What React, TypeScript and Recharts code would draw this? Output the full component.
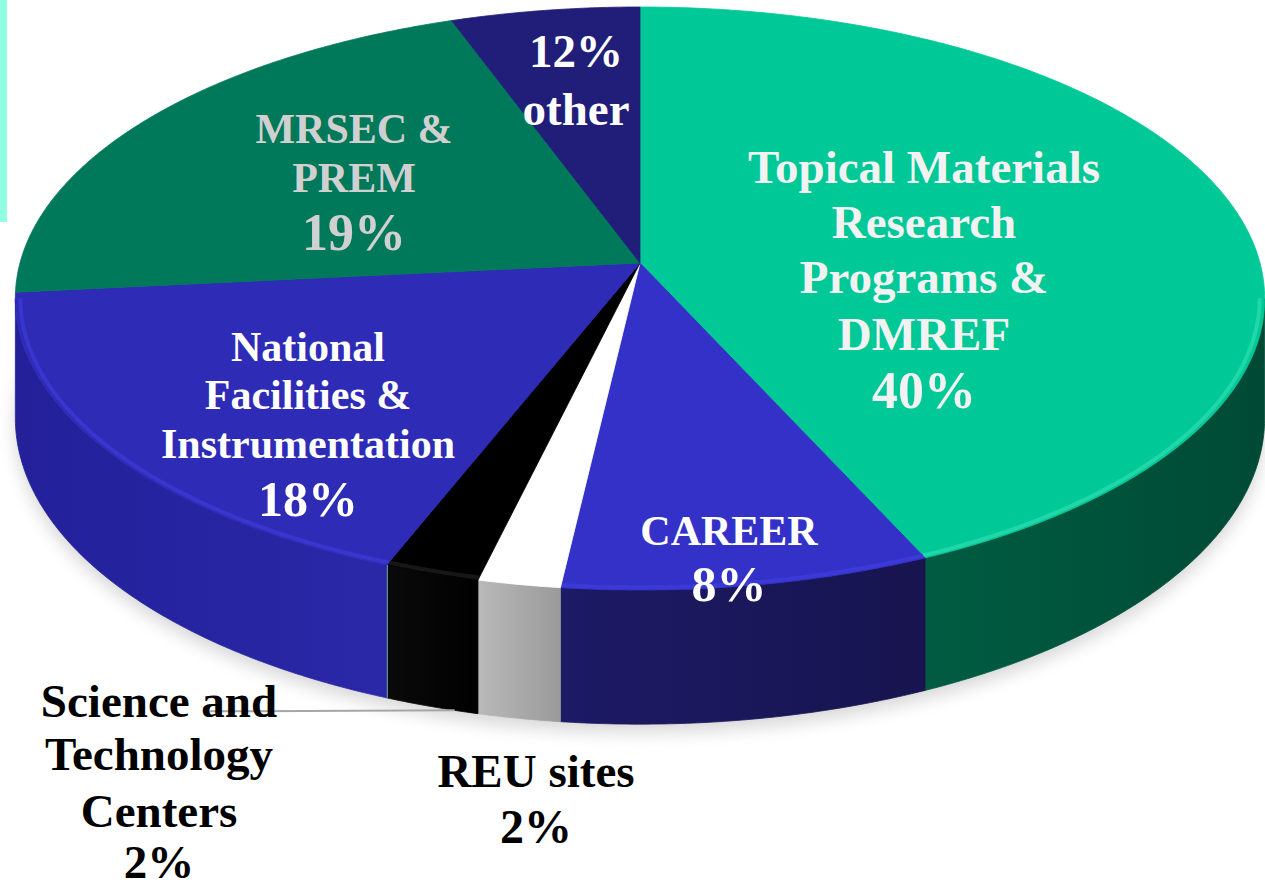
import React from 'react';
import { PieChart, Pie } from 'recharts';

// ---- data ----
const categories = [
  'Topical Materials Research Programs & DMREF',
  'CAREER',
  'REU sites',
  'Science and Technology Centers',
  'National Facilities & Instrumentation',
  'MRSEC & PREM',
  'other',
];
// slice shares as drawn in the picture
const shares = [43.3, 8.5, 1.9, 2.2, 17.5, 21.1, 5.5];
// printed percentages
const percentLabels = ['40%', '8%', '2%', '2%', '18%', '19%', '12%'];
const labelLines = [
  ['Topical Materials', 'Research', 'Programs &', 'DMREF'],
  ['CAREER'],
  ['REU sites'],
  ['Science and', 'Technology', 'Centers'],
  ['National', 'Facilities &', 'Instrumentation'],
  ['MRSEC &', 'PREM'],
  ['other'],
];

// ---- styles ----
const topColors = ['#00C896', '#3331C8', '#FFFFFF', '#000000', '#2E2BB6', '#00785A', '#201E78'];
const sideLeft = ['#005C42', '#1D1A66', '#B9B9B9', '#0A0A0A', '#23209A', '#00553F', '#16145A'];
const sideRight = ['#004A34', '#17144F', '#9A9A9A', '#000000', '#2B28A8', '#00553F', '#16145A'];
const rimColors = ['#22D8AA', '#3D3BDA', '#FFFFFF', '#1A1A1A', '#3A37D2', '#00785A', '#201E78'];

type Layout = { dx: number; ys: number[]; pctY: number; size: number; pctSize: number; color: string };
const labelLayout: Layout[] = [
  { dx: 284, ys: [-80, -25, 30, 87], pctY: 145, size: 47, pctSize: 52, color: '#F2F2F2' },
  { dx: 89, ys: [282], pctY: 338, size: 42, pctSize: 50, color: '#FFFFFF' },
  { dx: -104, ys: [524], pctY: 580, size: 47, pctSize: 48, color: '#000000' },
  { dx: -481, ys: [454, 507, 564], pctY: 615, size: 47, pctSize: 47, color: '#000000' },
  { dx: -332, ys: [98, 146, 195], pctY: 253, size: 42, pctSize: 50, color: '#FFFFFF' },
  { dx: -286, ys: [-120, -71], pctY: -13, size: 42, pctSize: 52, color: '#D0D0D0' },
  { dx: -64, ys: [-138], pctY: -196, size: 47, pctSize: 47, color: '#FFFFFF' },
];

const rows = categories.map((name, i) => ({ name, share: shares[i] }));

// ---- 3D projection of the pie disc ----
const TILT = 0.4632; // vertical squash of the disc
const PERSP = 0.1218; // perspective strength
const DEPTH = 0.19; // thickness relative to radius

function project(cx: number, cy: number, R: number, theta: number, depth = 0): [number, number] {
  const t = (theta * Math.PI) / 180;
  const u = Math.sin(t);
  const v = -Math.cos(t);
  const s = 1 / (1 - PERSP * v);
  return [cx + R * u * s, cy + R * TILT * v * s + depth * R * s];
}

function arcPts(cx: number, cy: number, R: number, a: number, b: number, depth = 0) {
  const n = Math.max(2, Math.ceil(Math.abs(b - a) / 0.5));
  const pts: [number, number][] = [];
  for (let i = 0; i <= n; i++) pts.push(project(cx, cy, R, a + ((b - a) * i) / n, depth));
  return pts;
}

const toPath = (pts: [number, number][]) =>
  pts.map((p, i) => `${i ? 'L' : 'M'}${p[0].toFixed(2)},${p[1].toFixed(2)}`).join(' ');

const FONT = "'Liberation Serif', 'Times New Roman', serif";

const renderSlice = (p: any) => {
  const { cx, cy, outerRadius: R, startAngle, endAngle, index } = p;
  const t1 = 90 - startAngle;
  const t2 = 90 - endAngle;
  const tan = (Math.acos(-PERSP) * 180) / Math.PI;
  const s1 = Math.max(t1, tan);
  const s2 = Math.min(t2, 360 - tan);
  const top = arcPts(cx, cy, R, t1, t2);
  const topD = `M${cx},${cy} ` + toPath(top).replace(/^M/, 'L') + ' Z';
  let side: React.ReactNode = null;
  let rim: React.ReactNode = null;
  if (s2 > s1) {
    const upper = arcPts(cx, cy, R, s1, s2);
    const lower = arcPts(cx, cy, R, s2, s1, DEPTH);
    const xs = upper.map((q) => q[0]);
    const gid = `side-grad-${index}`;
    side = (
      <g>
        <defs>
          <linearGradient id={gid} gradientUnits="userSpaceOnUse" x1={Math.min(...xs)} y1={0} x2={Math.max(...xs)} y2={0}>
            <stop offset="0%" stopColor={sideLeft[index]} />
            <stop offset="100%" stopColor={sideRight[index]} />
          </linearGradient>
        </defs>
        <path d={toPath([...upper, ...lower]) + ' Z'} fill={`url(#${gid})`} stroke={`url(#${gid})`} strokeWidth={0.8} />
      </g>
    );
    const rimPts = arcPts(cx, cy, R * 0.992, s1, s2);
    rim = <path d={toPath(rimPts)} fill="none" stroke={rimColors[index]} strokeWidth={4} strokeOpacity={0.9} />;
  }
  let shadow: React.ReactNode = null;
  if (index === 0) {
    const base = arcPts(cx, cy, R, 0, 360, DEPTH).map((q) => [q[0], q[1] + 8] as [number, number]);
    shadow = (
      <g>
        <defs>
          <filter id="pie-shadow" x="-20%" y="-20%" width="140%" height="140%">
            <feGaussianBlur stdDeviation="9" />
          </filter>
        </defs>
        <path d={toPath(base) + ' Z'} fill="#000" opacity={0.16} filter="url(#pie-shadow)" />
      </g>
    );
  }
  // thin mint seam at the start of the Science and Technology Centers wall
  let seam: React.ReactNode = null;
  if (index === 3 && s2 > s1) {
    const a = project(cx, cy, R, t2);
    const b = project(cx, cy, R, t2, DEPTH);
    seam = <line x1={a[0]} y1={a[1]} x2={b[0]} y2={b[1]} stroke="#9FE8CF" strokeWidth={2} />;
  }
  return (
    <g key={`slice-${index}`}>
      {shadow}
      {side}
      <path d={topD} fill={topColors[index]} stroke={topColors[index]} strokeWidth={0.8} />
      {rim}
      {seam}
    </g>
  );
};

const renderText = (p: any) => {
  const { cx, cy, index, outerRadius: R, startAngle, endAngle } = p;
  const L = labelLayout[index];
  const x = cx + L.dx;
  const common = { fontFamily: FONT, fontWeight: 700, textAnchor: 'middle' as const, fill: L.color };
  let leader: React.ReactNode = null;
  if (index === 3) {
    const t1 = 90 - startAngle;
    const t2 = 90 - endAngle;
    const end = project(cx, cy, R, t1 + 0.25 * (t2 - t1), DEPTH);
    leader = <line x1={cx - 430} y1={end[1] + 1} x2={end[0]} y2={end[1]} stroke="#A6A6A6" strokeWidth={2} />;
  }
  return (
    <g key={`text-${index}`}>
      {leader}
      {labelLines[index].map((line, j) => (
        <text key={j} x={x} y={cy + L.ys[j]} fontSize={L.size} {...common}>
          {line}
        </text>
      ))}
      <text x={x} y={cy + L.pctY} fontSize={L.pctSize} {...common}>
        {percentLabels[index]}
      </text>
    </g>
  );
};

export default function App() {
  return (
    <div style={{ position: 'absolute', left: 0, top: 0, width: 1265, height: 886, background: '#fff' }}>
      <div style={{ position: 'absolute', left: 0, top: 0, width: 7, height: 222, background: '#8FFFDF' }} />
      <PieChart width={1265} height={886} margin={{ top: 0, right: 0, bottom: 0, left: 0 }}>
        <Pie
          data={rows}
          dataKey="share"
          nameKey="name"
          cx={640}
          cy={263}
          outerRadius={620}
          startAngle={90}
          endAngle={-270}
          fill="transparent"
          stroke="none"
          label={renderSlice}
          labelLine={false}
          isAnimationActive={false}
        />
        <Pie
          data={rows}
          dataKey="share"
          nameKey="name"
          cx={640}
          cy={263}
          outerRadius={620}
          startAngle={90}
          endAngle={-270}
          fill="transparent"
          stroke="none"
          label={renderText}
          labelLine={false}
          isAnimationActive={false}
        />
      </PieChart>
    </div>
  );
}
